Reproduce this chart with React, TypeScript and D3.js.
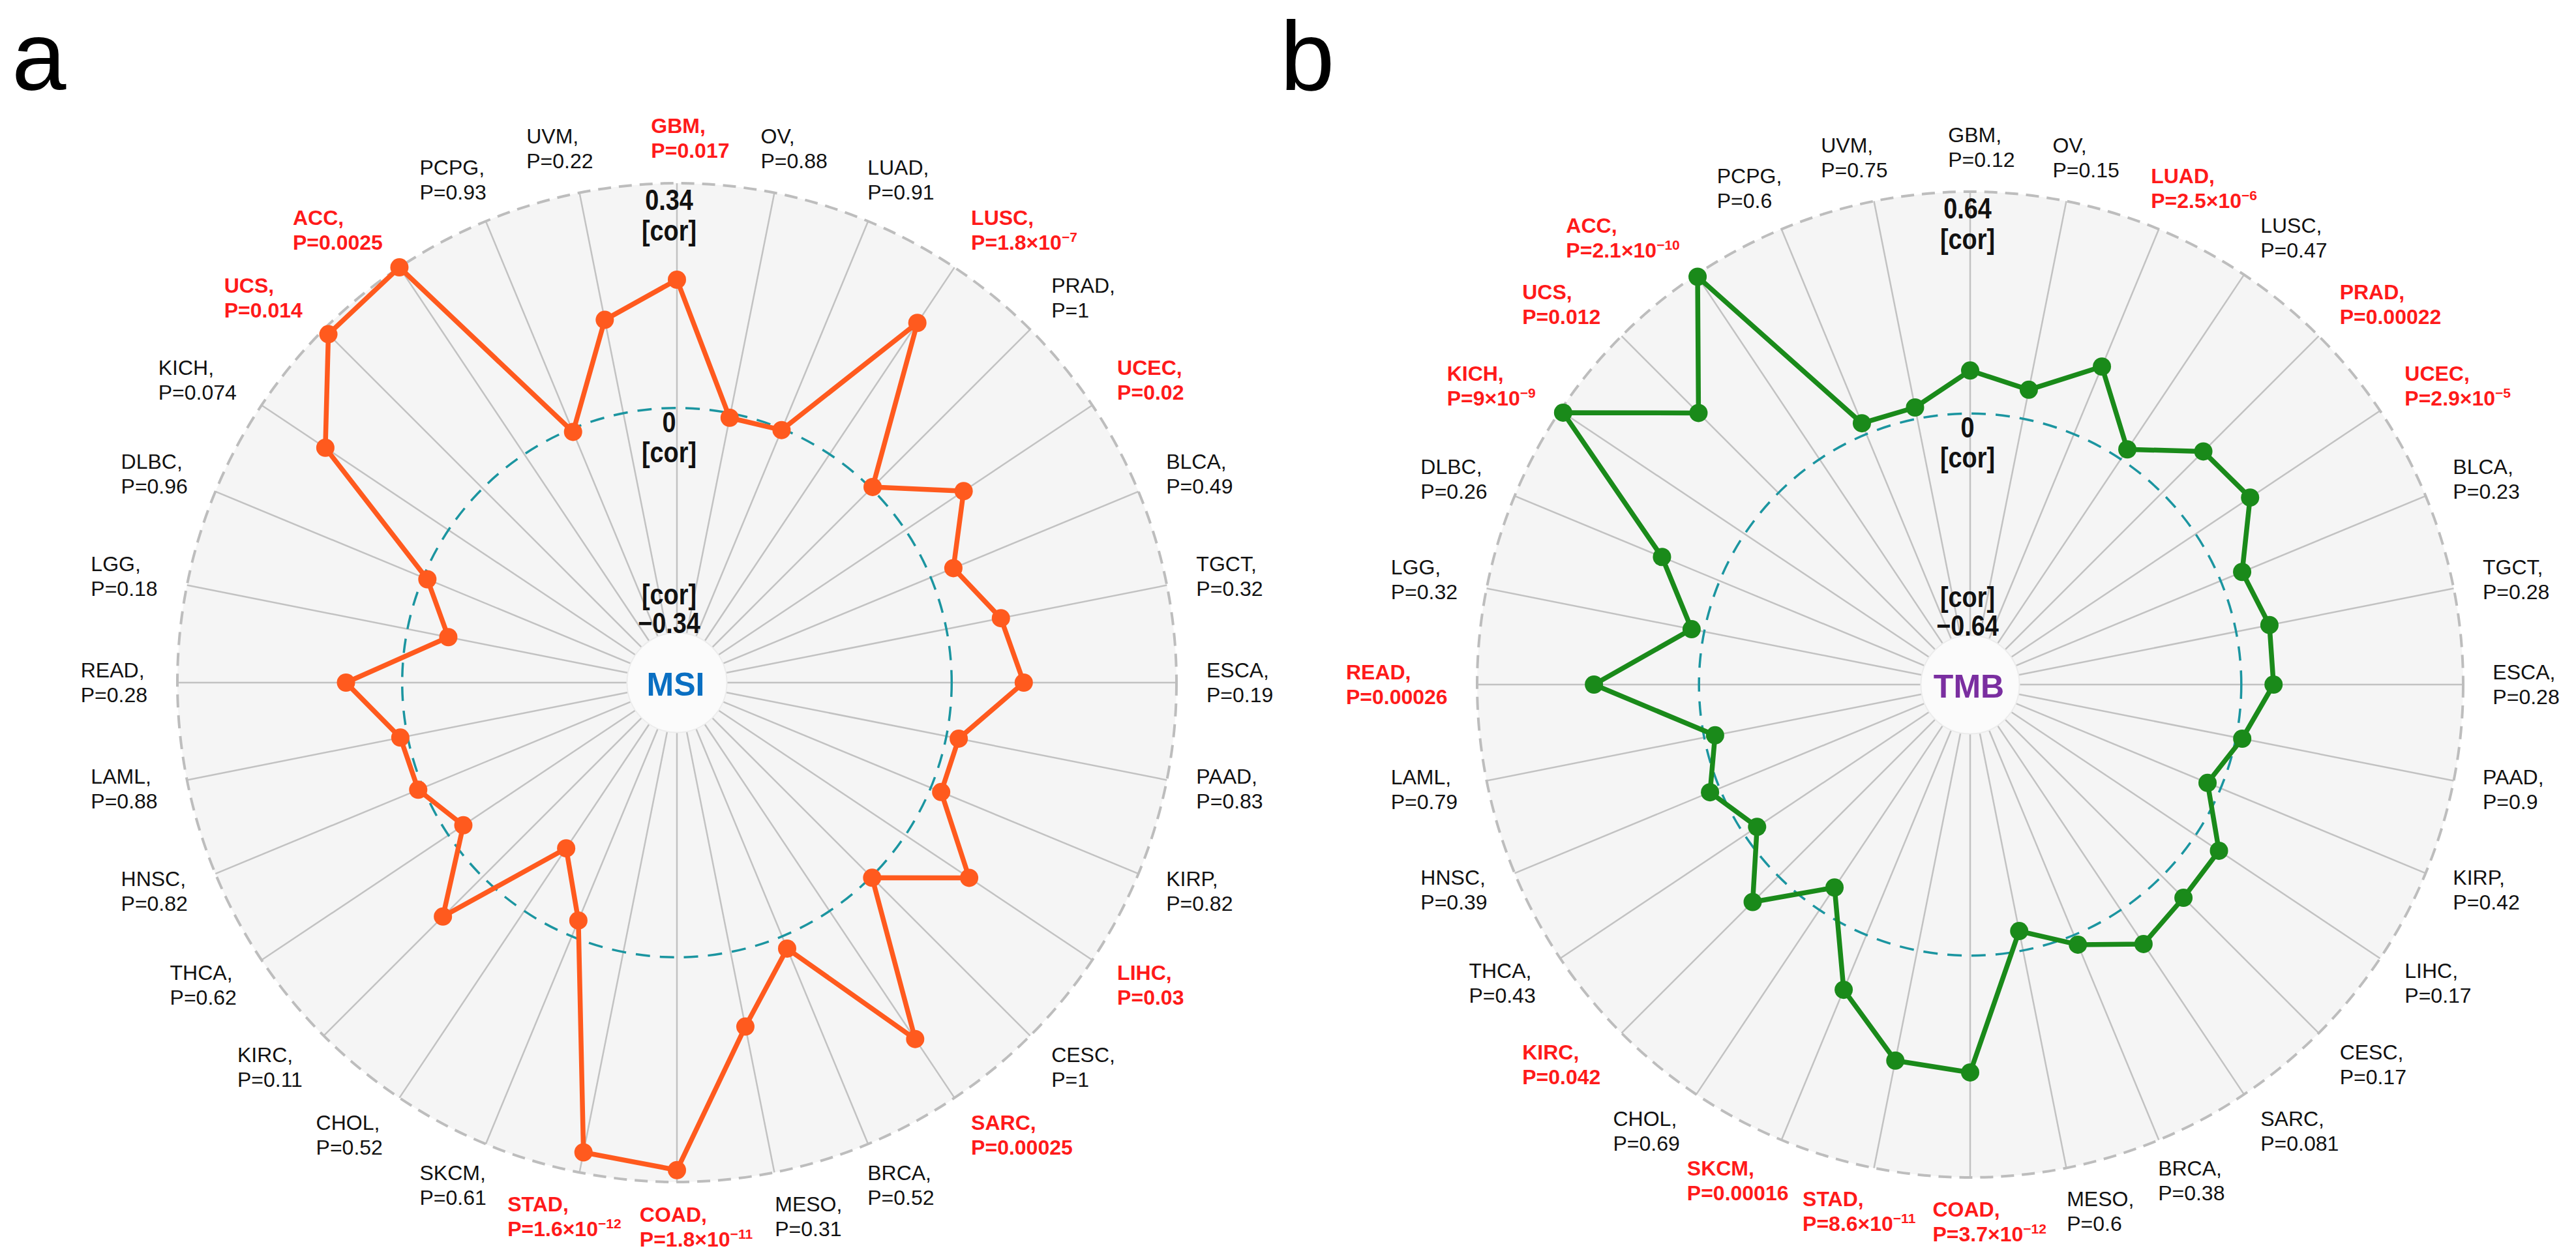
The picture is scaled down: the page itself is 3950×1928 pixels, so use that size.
import React, { useEffect, useRef } from 'react';
import * as d3 from 'd3';

// 32 TCGA cancer types, clockwise from the top
const cancerTypes = [
  'GBM', 'OV', 'LUAD', 'LUSC', 'PRAD', 'UCEC', 'BLCA', 'TGCT', 'ESCA', 'PAAD', 'KIRP',
  'LIHC', 'CESC', 'SARC', 'BRCA', 'MESO', 'COAD', 'STAD', 'SKCM', 'CHOL', 'KIRC', 'THCA',
  'HNSC', 'LAML', 'READ', 'LGG', 'DLBC', 'KICH', 'UCS', 'ACC', 'PCPG', 'UVM',
];

// panel a: correlation with MSI
const msiCor = [
  0.194, -0.007, -0.002, 0.239, 0.003, 0.106, 0.037, 0.084, 0.109, 0.019, 0.017,
  0.116, 0.002, 0.233, 0.02, 0.115, 0.322, 0.309, -0.026, -0.114, 0.085, -0.027,
  0.008, 0.011, 0.085, -0.063, -0.007, 0.224, 0.33, 0.34, -0.005, 0.144,
];
const msiP = [
  '0.017', '0.88', '0.91', '1.8e-7', '1', '0.02', '0.49', '0.32', '0.19', '0.83', '0.82',
  '0.03', '1', '0.00025', '0.52', '0.31', '1.8e-11', '1.6e-12', '0.61', '0.52', '0.11', '0.62',
  '0.82', '0.88', '0.28', '0.18', '0.96', '0.074', '0.014', '0.0025', '0.93', '0.22',
];
const msiTicks = [-0.34, 0, 0.34];

// panel b: correlation with TMB
const tmbCor = [
  0.124, 0.085, 0.211, 0.034, 0.169, 0.189, 0.067, 0.098, 0.093, 0.018, -0.041,
  0.081, 0.088, 0.118, 0.03, -0.057, 0.337, 0.324, 0.171, -0.078, 0.105, -0.043,
  0.03, -0.032, 0.303, 0.037, 0.18, 0.63, 0.326, 0.633, 0.034, 0.033,
];
const tmbP = [
  '0.12', '0.15', '2.5e-6', '0.47', '0.00022', '2.9e-5', '0.23', '0.28', '0.28', '0.9', '0.42',
  '0.17', '0.17', '0.081', '0.38', '0.6', '3.7e-12', '8.6e-11', '0.00016', '0.69', '0.042', '0.43',
  '0.39', '0.79', '0.00026', '0.32', '0.26', '9e-9', '0.012', '2.1e-10', '0.6', '0.75',
];
const tmbTicks = [-0.64, 0, 0.64];

const W = 3950;
const H = 1928;
const FONT = '"Liberation Sans", Arial, Helvetica, sans-serif';
const RED = '#ff1a1a';

interface RadarCfg {
  cx: number;
  cy: number;
  R: number;
  cor: number[];
  pvals: string[];
  ticks: number[];
  color: string;
  title: string;
  titleColor: string;
  tickDx: number;
}

const minus = (s: string) => s.replace('-', '\u2212');

function drawRadar(svg: d3.Selection<SVGSVGElement, unknown, null, undefined>, cfg: RadarCfg) {
  const { cx, cy, R, cor, pvals, ticks, color, title, titleColor, tickDx } = cfg;
  const [lo, mid, hi] = ticks;
  const n = cancerTypes.length;

  // ggradar-like radial scale: centre sits 1/9 of the range below the minimum
  const r = d3.scaleLinear().domain([lo - (hi - lo) / 9, hi]).range([0, R]);
  const angle = d3.scaleLinear().domain([0, n]).range([0, 2 * Math.PI]);

  const g = svg.append('g').attr('transform', `translate(${cx},${cy})`);

  g.append('circle').attr('r', R).attr('fill', '#f5f5f5');

  g.selectAll('line.spoke')
    .data(cancerTypes)
    .join('line')
    .attr('class', 'spoke')
    .attr('x1', (d, i) => r(lo) * Math.sin(angle(i)))
    .attr('y1', (d, i) => -r(lo) * Math.cos(angle(i)))
    .attr('x2', (d, i) => r(hi) * Math.sin(angle(i)))
    .attr('y2', (d, i) => -r(hi) * Math.cos(angle(i)))
    .attr('stroke', '#c2c2c2')
    .attr('stroke-width', 2.5);

  g.append('circle')
    .attr('r', r(hi))
    .attr('fill', 'none')
    .attr('stroke', '#bdbdbd')
    .attr('stroke-width', 4)
    .attr('stroke-dasharray', '20 12');

  g.append('circle')
    .attr('r', r(mid))
    .attr('fill', 'none')
    .attr('stroke', '#1b95a0')
    .attr('stroke-width', 3.5)
    .attr('stroke-dasharray', '22 15');

  g.append('circle')
    .attr('r', r(lo))
    .attr('fill', '#fbfbfb')
    .attr('stroke', '#ececec')
    .attr('stroke-width', 2);

  // grid labels (condensed bold)
  const tick = (txt: string[], ys: number[]) => {
    txt.forEach((t, k) => {
      g.append('text')
        .attr('transform', `translate(${tickDx},${ys[k]}) scale(0.86,1)`)
        .attr('text-anchor', 'middle')
        .attr('dominant-baseline', 'central')
        .attr('font-family', FONT)
        .attr('font-weight', 'bold')
        .attr('font-size', 44)
        .attr('fill', '#111')
        .text(t);
    });
  };
  tick([String(hi), '[cor]'], [-(r(hi) - 26), -(r(hi) - 73)]);
  tick([String(mid), '[cor]'], [-(r(mid) - 22), -(r(mid) - 68)]);
  tick(['[cor]', minus(String(lo))], [-(r(lo) + 58), -(r(lo) + 14)]);

  // polygon + points
  const line = d3
    .lineRadial<number>()
    .angle((d, i) => angle(i))
    .radius(d => r(d))
    .curve(d3.curveLinearClosed);

  g.append('path')
    .attr('d', line(cor) || '')
    .attr('fill', 'none')
    .attr('stroke', color)
    .attr('stroke-width', 7.5)
    .attr('stroke-linejoin', 'round');

  g.selectAll('circle.pt')
    .data(cor)
    .join('circle')
    .attr('class', 'pt')
    .attr('cx', (d, i) => r(d) * Math.sin(angle(i)))
    .attr('cy', (d, i) => -r(d) * Math.cos(angle(i)))
    .attr('r', 14)
    .attr('fill', color);

  g.append('text')
    .attr('x', -2)
    .attr('y', 3)
    .attr('text-anchor', 'middle')
    .attr('dominant-baseline', 'central')
    .attr('font-family', FONT)
    .attr('font-weight', 'bold')
    .attr('font-size', 50)
    .attr('fill', titleColor)
    .text(title);

  // cancer labels: left-aligned two-line blocks pushed out from the rim
  const c0 = Math.cos((33.75 * Math.PI) / 180);
  cancerTypes.forEach((name, i) => {
    const th = angle(i);
    const s = Math.sin(th);
    const c = Math.cos(th);
    const p = pvals[i];
    const sig = Number(p) < 0.05;
    const lg = g
      .append('g')
      .attr('font-family', FONT)
      .attr('font-size', 32)
      .attr('font-weight', sig ? 'bold' : 'normal')
      .attr('fill', sig ? RED : '#111');
    const t1 = lg.append('text').attr('x', 0).attr('y', -8).text(`${name},`);
    const t2 = lg.append('text').attr('x', 0).attr('y', 30);
    if (p.includes('e')) {
      const [m, e] = p.split('e');
      t2.append('tspan').text(`P=${m}\u00d710`);
      t2.append('tspan').attr('dy', -12).attr('font-size', 21).text(minus(e));
    } else {
      t2.text(`P=${p}`);
    }
    const w = Math.max(
      (t1.node() as SVGTextElement).getComputedTextLength(),
      (t2.node() as SVGTextElement).getComputedTextLength()
    );
    const ramp = 0.33 * Math.max(0, (Math.abs(c) - c0) / (1 - c0));
    const hj = s > -1e-6 ? ramp : 1 - ramp;
    // the two labels flanking the bottom spoke sit a little further right
    const nudge = c < -0.95 && Math.abs(s) > 0.01 ? 22 : 0;
    const ax = 1.06 * R * s + nudge;
    const ay = -1.09 * R * c;
    lg.attr('transform', `translate(${ax - hj * w},${ay})`);
  });
}

const App: React.FC = () => {
  const svgRef = useRef<SVGSVGElement>(null);

  useEffect(() => {
    if (!svgRef.current) return;
    const svg = d3.select(svgRef.current);
    svg.selectAll('*').remove();

    svg.append('rect').attr('width', W).attr('height', H).attr('fill', '#fff');

    drawRadar(svg, {
      cx: 1038, cy: 1047, R: 766,
      cor: msiCor, pvals: msiP, ticks: msiTicks,
      color: '#ff5a1e', title: 'MSI', titleColor: '#0a6fc2', tickDx: -12,
    });
    drawRadar(svg, {
      cx: 3021, cy: 1050, R: 756,
      cor: tmbCor, pvals: tmbP, ticks: tmbTicks,
      color: '#1a8a1a', title: 'TMB', titleColor: '#7a2ea0', tickDx: -4,
    });

    // panel letters
    [['a', 18], ['b', 1963]].forEach(([l, x]) => {
      svg.append('text')
        .attr('x', x as number)
        .attr('y', 138)
        .attr('font-family', FONT)
        .attr('font-size', 150)
        .attr('fill', '#000')
        .text(l as string);
    });
  }, []);

  return (
    <svg
      ref={svgRef}
      width={W}
      height={H}
      style={{ position: 'absolute', left: 0, top: 0 }}
    />
  );
};

export default App;
